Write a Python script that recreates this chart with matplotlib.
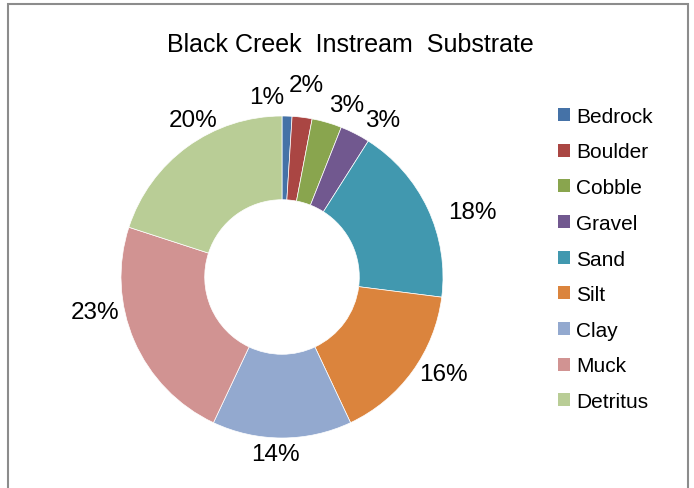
import numpy as np
import matplotlib.pyplot as plt
from matplotlib.patches import Rectangle, Patch

plt.rcParams['font.family'] = ['Liberation Sans', 'DejaVu Sans']

# Substrate composition (percent)
categories = ['Bedrock', 'Boulder', 'Cobble', 'Gravel', 'Sand', 'Silt', 'Clay', 'Muck', 'Detritus']
values = [1, 2, 3, 3, 18, 16, 14, 23, 20]
colors = ['#4572A7', '#AA4643', '#89A54E', '#71588F', '#4198AF',
          '#DB843D', '#93A9CF', '#D19392', '#B9CD96']
# best-fit label nudges (degrees, radius factor) like Excel places them
label_shift = [6.8, 0, -4.5, -5.6, -6.3, 5.0, -2.0, -12.8, -6.3]
label_rad = [1.12, 1.20, 1.14, 1.16, 1.25, 1.17, 1.10, 1.18, 1.12]

fig = plt.figure(figsize=(6.94, 4.89), dpi=100)
ax = fig.add_axes([0, 0, 1, 1])

cx, cy, R = 282, 211, 161
wedges, _ = ax.pie(values, colors=colors, startangle=90, counterclock=False,
                   radius=R, center=(cx, cy), frame=True,
                   wedgeprops=dict(width=R * 0.52, edgecolor='white', linewidth=0.5))

# percentage labels
total = sum(values)
cum = 0
for i, v in enumerate(values):
    mid = 90 - 360 * (cum + v / 2) / total + label_shift[i]
    cum += v
    r = R * label_rad[i]
    x = cx + r * np.cos(np.radians(mid))
    y = cy + r * np.sin(np.radians(mid))
    ax.text(x, y, f'{v}%', fontsize=17.5, ha='center', va='center')

ax.set_xlim(0, 694)
ax.set_ylim(0, 489)
ax.set_aspect('auto')
ax.axis('off')

ax.text(350, 444, 'Black Creek  Instream  Substrate', fontsize=18,
        ha='center', va='center')

handles = [Patch(facecolor=c, edgecolor='none') for c in colors]
ax.legend(handles, categories, loc='center left', bbox_to_anchor=(558 / 694, 229 / 489),
          frameon=False, fontsize=15, handlelength=0.58, handleheight=0.58,
          handletextpad=0.3, labelspacing=0.8, borderpad=0, borderaxespad=0)

ax.add_patch(Rectangle((8.5, -20), 679.5, 504, fill=False, edgecolor='#8c8c8c',
                       linewidth=1.5, clip_on=False))

fig.savefig('out.png', dpi=100)
